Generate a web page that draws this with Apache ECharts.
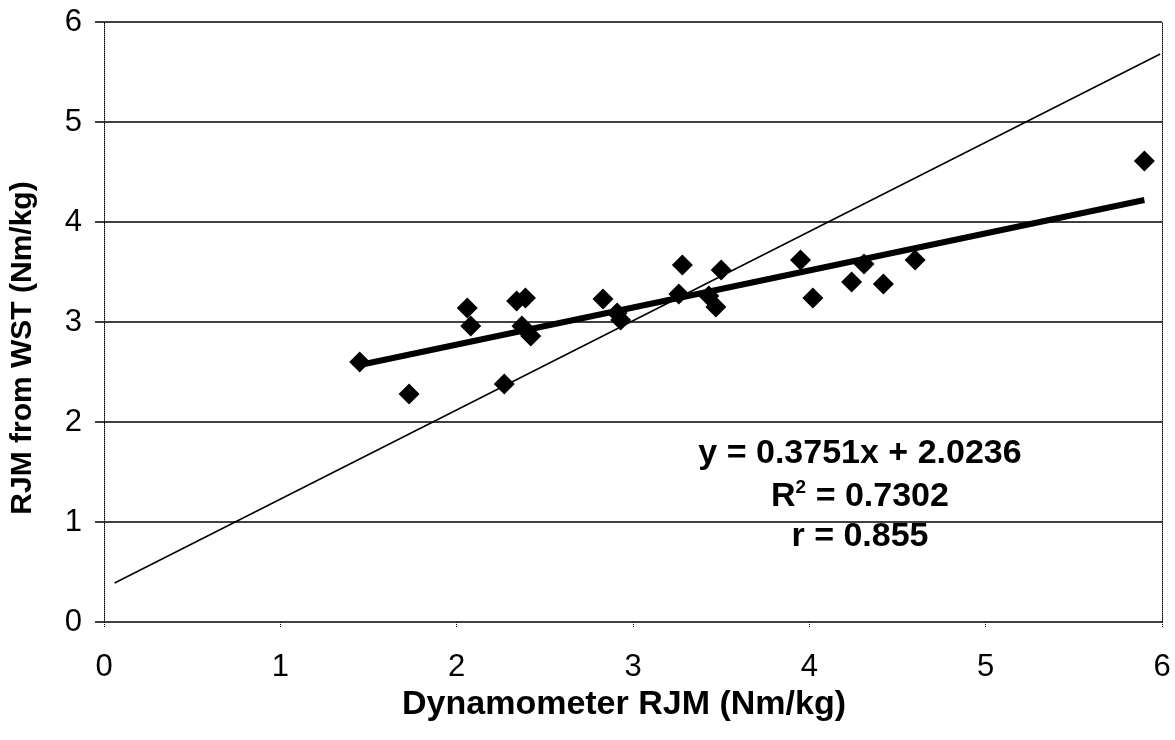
<!DOCTYPE html>
<html>
<head>
<meta charset="utf-8">
<script src="https://cdn.jsdelivr.net/npm/echarts@6/dist/echarts.min.js"></script>
<style>
  html, body { margin: 0; padding: 0; background: #fff; }
  #main { width: 1175px; height: 740px; }
</style>
</head>
<body>
<div id="main"></div>
<script>
// measured points: Dynamometer RJM vs RJM from WST (Nm/kg)
let dynoRjm = [1.45, 1.73, 2.06, 2.08, 2.27, 2.34, 2.39, 2.37, 2.42, 2.83, 2.91, 2.93,
    3.26, 3.28, 3.43, 3.47, 3.50, 3.95, 4.02, 4.24, 4.31, 4.42, 4.60, 5.90];
let wstRjm = [2.60, 2.28, 3.14, 2.96, 2.38, 3.21, 3.24, 2.96, 2.86, 3.23, 3.09, 3.02,
    3.28, 3.57, 3.26, 3.15, 3.52, 3.62, 3.24, 3.40, 3.58, 3.38, 3.62, 4.61];

// regression line ends and the thin reference line ends
let trendX = [1.45, 5.90];
let trendY = [2.57, 4.22];
let refX = [0.06, 5.99];
let refY = [0.39, 5.68];

let ticks = [0, 1, 2, 3, 4, 5, 6];

let statLines = ['y = 0.3751x + 2.0236', 'R', ' = 0.7302', 'r = 0.855'];

let font = '"Liberation Sans", Arial, sans-serif';

let myChart = echarts.init(document.getElementById('main'));

let option = {
    animation: false,
    backgroundColor: '#fff',
    grid: {
        left: 101,
        right: 13,
        top: 22,
        bottom: 118
    },
    xAxis: {
        type: 'value',
        min: ticks[0],
        max: ticks[ticks.length - 1],
        interval: 1,
        name: 'Dynamometer RJM (Nm/kg)',
        nameLocation: 'middle',
        nameGap: 61,
        nameTextStyle: { fontFamily: font, fontSize: 34, fontWeight: 'bold', color: '#000', padding: [0, 18, 0, 0] },
        axisLine: { show: false },
        axisTick: { show: true, length: 6, lineStyle: { color: '#000', type: 'dotted' } },
        axisLabel: { margin: 30, fontFamily: font, fontSize: 31, color: '#000' },
        splitLine: { show: false }
    },
    yAxis: [{
        type: 'value',
        min: ticks[0],
        max: ticks[ticks.length - 1],
        interval: 1,
        name: 'RJM from WST (Nm/kg)',
        nameLocation: 'middle',
        nameGap: 66,
        nameTextStyle: { fontFamily: font, fontSize: 30, fontWeight: 'bold', color: '#000', padding: [0, 52, 0, 0] },
        axisLine: { show: true, lineStyle: { color: '#000', type: 'dotted', width: 1 } },
        axisTick: { show: true, length: 9, lineStyle: { color: '#000', width: 1.5 } },
        axisLabel: { margin: 22, fontFamily: font, fontSize: 31, color: '#000' },
        splitLine: { show: true, lineStyle: { color: '#000', width: 1.5 } }
    }, {
        type: 'value',
        position: 'right',
        min: ticks[0],
        max: ticks[ticks.length - 1],
        interval: 1,
        axisLine: { show: true, lineStyle: { color: '#000', type: 'dotted', width: 1 } },
        axisTick: { show: false },
        axisLabel: { show: false },
        splitLine: { show: false }
    }],
    series: [{
        name: 'reference',
        type: 'line',
        data: refX.map((x, i) => [x, refY[i]]),
        symbol: 'none',
        lineStyle: { color: '#000', width: 1.5 },
        z: 2
    }, {
        name: 'trend',
        type: 'line',
        data: trendX.map((x, i) => [x, trendY[i]]),
        symbol: 'none',
        lineStyle: { color: '#000', width: 6 },
        z: 3
    }, {
        name: 'RJM',
        type: 'scatter',
        data: dynoRjm.map((x, i) => [x, wstRjm[i]]),
        symbol: 'diamond',
        symbolSize: 21,
        itemStyle: { color: '#000', opacity: 1 },
        z: 4
    }],
    graphic: [{
        type: 'text',
        x: 860,
        y: 454,
        style: {
            text: statLines[0],
            font: 'bold 34px ' + font,
            fill: '#000',
            align: 'center',
            verticalAlign: 'middle'
        }
    }, {
        type: 'text',
        x: 860,
        y: 496,
        style: {
            text: '{a|' + statLines[1] + '}{s|2}{a|' + statLines[2] + '}',
            align: 'center',
            verticalAlign: 'middle',
            rich: {
                a: { font: 'bold 34px ' + font, fill: '#000', verticalAlign: 'bottom' },
                s: { font: 'bold 19px ' + font, fill: '#000', verticalAlign: 'top', padding: [0, 0, 16, 0] }
            }
        }
    }, {
        type: 'text',
        x: 860,
        y: 537,
        style: {
            text: statLines[3],
            font: 'bold 34px ' + font,
            fill: '#000',
            align: 'center',
            verticalAlign: 'middle'
        }
    }]
};

myChart.setOption(option);
</script>
</body>
</html>
